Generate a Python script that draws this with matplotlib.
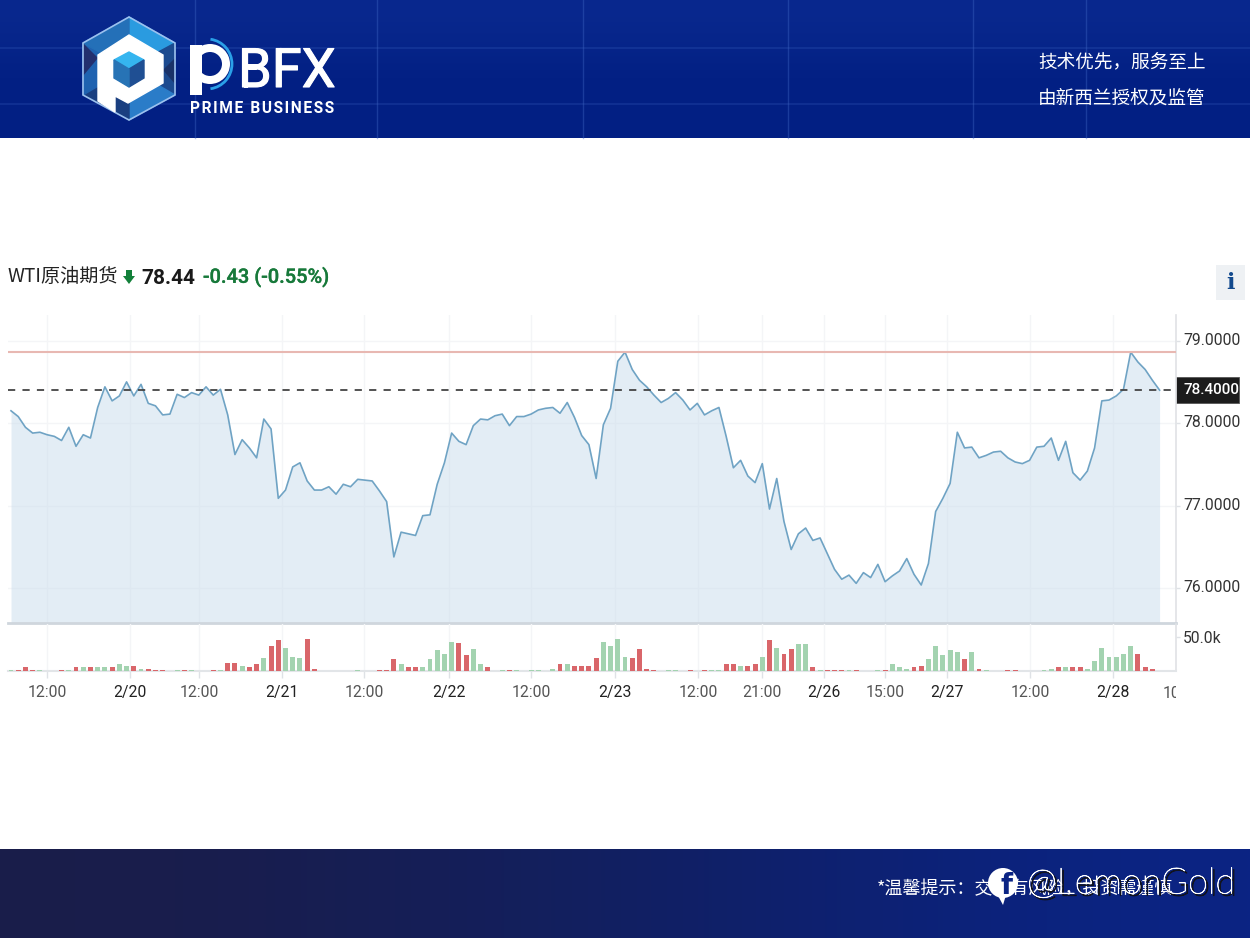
#!/usr/bin/env python3
"""WTI crude intraday chart inside the PBFX banner layout."""
import matplotlib
matplotlib.use("Agg")
import matplotlib.pyplot as plt
import matplotlib.patheffects as pe
import numpy as np
from matplotlib.patches import Circle, Polygon, Rectangle, Wedge, Arc
from matplotlib.transforms import Bbox, ScaledTranslation

W, H = 1250, 938
CJK = ["Noto Sans CJK SC", "DejaVu Sans"]

price = [
    78.15, 78.08, 77.95, 77.88, 77.89, 77.86, 77.84, 77.79, 77.95, 77.72,
    77.86, 77.82, 78.19, 78.44, 78.27, 78.33, 78.50, 78.33, 78.47, 78.24,
    78.21, 78.10, 78.11, 78.35, 78.31, 78.37, 78.34, 78.44, 78.34, 78.41,
    78.10, 77.62, 77.80, 77.70, 77.58, 78.05, 77.93, 77.09, 77.19, 77.47,
    77.52, 77.30, 77.19, 77.19, 77.23, 77.14, 77.26, 77.23, 77.32, 77.31,
    77.30, 77.18, 77.05, 76.38, 76.68, 76.66, 76.64, 76.88, 76.89, 77.26,
    77.52, 77.88, 77.78, 77.74, 77.97, 78.05, 78.04, 78.09, 78.11, 77.97,
    78.08, 78.08, 78.11, 78.16, 78.18, 78.19, 78.12, 78.25, 78.07, 77.85,
    77.74, 77.33, 77.98, 78.18, 78.75, 78.86, 78.65, 78.52, 78.44, 78.34,
    78.25, 78.30, 78.37, 78.28, 78.16, 78.24, 78.10, 78.15, 78.19, 77.84,
    77.46, 77.55, 77.36, 77.28, 77.51, 76.96, 77.33, 76.81, 76.47, 76.66,
    76.73, 76.58, 76.61, 76.42, 76.23, 76.11, 76.16, 76.06, 76.19, 76.13,
    76.29, 76.08, 76.15, 76.21, 76.36, 76.17, 76.04, 76.30, 76.93, 77.09,
    77.27, 77.89, 77.70, 77.71, 77.58, 77.61, 77.65, 77.66, 77.58, 77.53,
    77.51, 77.55, 77.71, 77.72, 77.82, 77.55, 77.78, 77.40, 77.31, 77.42,
    77.70, 78.27, 78.28, 78.33, 78.41, 78.86, 78.74, 78.65, 78.52, 78.40,
]

# volume in thousands, one bar per price point
volume = [
    1, 1, 5.5, 1.5, 1, 0, 0, 1, 1, 6,
    5.5, 5.5, 5.5, 5.5, 5.5, 10, 8, 8, 3, 3,
    1, 1, 0, 1, 1, 1, 0, 0, 1, 1,
    12, 12, 8, 5.5, 10, 19, 37, 45, 34, 21,
    19, 47.5, 3, 0, 0, 0, 0, 0, 1, 0,
    0, 1, 1, 17, 10, 5.5, 5.5, 5.5, 17, 30,
    25.5, 43, 41, 24, 32, 10, 5.5, 0, 1, 1,
    1, 0, 1, 1, 0, 3.5, 10, 10, 8, 8,
    8, 19, 43, 37, 47.5, 21, 19, 32, 3.5, 1,
    0, 1, 1, 0, 1, 0, 1, 1, 1, 10,
    10, 8, 8, 10, 21, 45, 34, 25.5, 32, 39,
    39, 5.5, 1, 1, 1, 1, 1, 1, 0, 0,
    1, 1, 10, 5.5, 3.5, 5.5, 8, 17, 37, 24,
    30, 28, 17, 28, 3.5, 1, 0, 0, 1, 1,
    0, 0, 0, 1, 3.5, 5.5, 5.5, 5.5, 5.5, 3.5,
    14, 34, 21, 21, 25.5, 37, 25.5, 5.5, 3, 0,
]
# r = down bar, g = up bar
vol_side = (
    "grrrggrrgr" "grggrggrgr" "rrggrgggrg" "rrgrrgrrgg"
    "grrggggggg" "grrrgrrggg" "ggrrggrggr" "ggggggrgrr"
    "rrggggrrrr" "ggggrgrggr" "rgrrgrgrrg" "grgrrrgrgg"
    "grgggrrggg" "ggrgrgggrr" "gggggrgrrg" "ggggggrrrg"
)

tick_idx = [4.98, 16.47, 26.02, 37.51, 48.86, 60.63, 71.98, 83.61, 95.10, 103.96, 112.54, 120.98, 129.57, 141.06, 152.55]
tick_txt = ["12:00", "2/20", "12:00", "2/21", "12:00", "2/22", "12:00", "2/23",
            "12:00", "21:00", "2/26", "15:00", "2/27", "12:00", "2/28"]
price_ticks = [76, 77, 78, 79]
session_high = 78.86
last_price = 78.40


def box(l, t, r, b):
    # pixel box, y measured from the top of the image
    return [l / W, 1 - b / H, (r - l) / W, (b - t) / H]


fig = plt.figure(figsize=(W / 100, H / 100), dpi=100, facecolor="white")

# page furniture, drawn in image pixels
bg = fig.add_axes([0, 0, 1, 1])
bg.set_xlim(0, W)
bg.set_ylim(H, 0)
bg.axis("off")

top_c = np.array([[[9, 40, 142]], [[5, 36, 136]], [[2, 30, 130]], [[3, 32, 132]]]) / 255
bg.imshow(top_c, extent=(0, W, 138, 0), aspect="auto", interpolation="bicubic", zorder=1)
for x in [195, 377, 583, 788, 973, 1086]:
    bg.plot([x, x], [0, 138], color="#3f66c4", lw=1, alpha=0.4, zorder=2)
for y in [48, 104]:
    bg.plot([0, W], [y, y], color="#3f66c4", lw=1.5, alpha=0.22, zorder=2)
foot_c = np.array([[[26, 29, 74], [21, 31, 88], [14, 32, 108], [11, 36, 132]]]) / 255
bg.imshow(foot_c, extent=(0, W, 938, 849), aspect="auto", interpolation="bicubic", zorder=1)
bg.set_xlim(0, W)
bg.set_ylim(H, 0)

# hexagon logo
cx, cy = 129, 68
rim = [(129, 17), (175, 43), (175, 95), (129, 120), (83, 95), (83, 43)]
facets = ["#2a9be0", "#1c4a8f", "#2a7cc8", "#1a3f80", "#1f62b0", "#2470b8"]
for i, c in enumerate(facets):
    bg.add_patch(Polygon([rim[i], rim[(i + 1) % 6], (cx, cy)], fc=c, ec=c, zorder=3))
bg.add_patch(Polygon([(83, 43), (98, 58), (83, 76)], fc="#232f6e", ec="none", zorder=3))
bg.add_patch(Polygon([(175, 58), (163, 70), (175, 84)], fc="#1a3268", ec="none", zorder=3))
bg.add_patch(Polygon(rim, fc="none", ec="#9cc0ee", lw=1.2, zorder=4))
bg.add_patch(Polygon([(129, 35), (163, 55), (163, 83), (128, 103), (115, 96), (115, 112), (98, 101), (98, 55)],
                     fc="white", ec="white", zorder=5))
hex_in = [(129, 52), (144, 60), (144, 78), (129, 87), (114, 78), (114, 60)]
bg.add_patch(Polygon([hex_in[5], hex_in[0], hex_in[1], (129, 69)], fc="#35b5ef", ec="#35b5ef", zorder=6))
bg.add_patch(Polygon([hex_in[1], hex_in[2], hex_in[3], (129, 69)], fc="#1f4f93", ec="#1f4f93", zorder=6))
bg.add_patch(Polygon([hex_in[3], hex_in[4], hex_in[5], (129, 69)], fc="#2773b5", ec="#2773b5", zorder=6))

# wordmark
bg.add_patch(Rectangle((190, 45), 12, 50, fc="white", ec="none", zorder=5))
bg.add_patch(Wedge((210, 64), 20, 0, 360, width=8, fc="white", ec="none", zorder=5))
bg.add_patch(Arc((207, 64), 50, 50, theta1=-82, theta2=82, color="#2aa0e8", lw=2, zorder=5))
bfx = bg.text(238, 87, "BFX", color="white", family="Roboto", fontsize=39, va="baseline", ha="left", zorder=5)
bfx.set_path_effects([pe.withStroke(linewidth=0.8, foreground="white")])
bg.text(190, 113, "\u200a".join("PRIME BUSINESS"), color="white", family=["Roboto", "DejaVu Sans"], weight="bold",
        fontsize=11.2, va="baseline", ha="left", zorder=5)

bg.text(1038, 62.5, "技术优先，服务至上", color="white", family=CJK, fontsize=13.4, va="center", ha="left", zorder=5)
bg.text(1038, 98.5, "由新西兰授权及监管", color="white", family=CJK, fontsize=13.4, va="center", ha="left", zorder=5)

# quote header
bg.text(8, 277, "WTI原油期货", color="#222222", family=CJK, fontsize=13.8, va="center", ha="left")
bg.add_patch(Polygon([(126, 270), (132, 270), (132, 276), (135, 276), (129, 284), (123, 276), (126, 276)],
                     fc="#13803a", ec="none"))
bg.text(141, 278, "78.44", color="#1a1a1a", family="Roboto", weight="bold", fontsize=15, va="center", ha="left")
chg = bg.text(203, 277, "-0.43 (-0.55%)", color="#17793a", family="Roboto", weight="medium", fontsize=14.4,
              va="center", ha="left")
chg.set_path_effects([pe.withStroke(linewidth=0.2, foreground="#17793a")])
bg.add_patch(Rectangle((1216, 265), 29, 35, fc="#eef1f4", ec="none"))
bg.text(1230, 283, "i", color="#134a8e", family="DejaVu Serif", weight="bold", fontsize=16, va="center", ha="center")

# footer and watermark
bg.text(877, 888.5, "*温馨提示：交易有风险，投资需谨慎", color="white", family=CJK, fontsize=13,
        va="center", ha="left", zorder=5)
bg.add_patch(Circle((1003, 883), 15, fc="white", ec="none", zorder=6))
bg.add_patch(Polygon([(996, 892), (1006, 895), (1003, 905)], fc="white", ec="none", zorder=6))
bg.text(1007, 886, "f", color="#0b2484", family="DejaVu Sans", weight="bold", fontsize=20, va="center",
        ha="center", zorder=7)
wm = bg.text(1027, 884, "@LemonGold", color="white", family="Lato", weight="light", fontsize=26, va="center",
             ha="left", zorder=7)
wm.set_path_effects([pe.Stroke(offset=(1.5, -1.5), linewidth=0.8, foreground="#10131f"),
                     pe.Stroke(linewidth=0.5, foreground="white"), pe.Normal()])

# price panel
x = np.arange(len(price))
x_lim = (-0.415, 161.27)

ax = fig.add_axes(box(8, 315, 1176, 623), facecolor="none")
ax.set_xlim(*x_lim)
ax.set_ylim(75.58, 79.31)
ax.fill_between(x, price, 75.58, color="#c9dced", alpha=0.5, lw=0, zorder=2)
ax.plot(x, price, color="#6fa3c4", lw=1.2, zorder=3)
ax.axhline(session_high, color="#e8b8b2", lw=1.5, zorder=3)
ax.axhline(last_price, color="#444444", lw=1.3, ls=(0, (4, 4)), zorder=4)
ax.set_xticks(tick_idx)
ax.set_yticks(price_ticks)
ax.set_yticklabels([f"{v:.4f}" for v in price_ticks])
ax.grid(color="#f4f5f7", lw=1, zorder=0)
ax.yaxis.tick_right()
ax.tick_params(axis="x", length=0, labelbottom=False)
ax.tick_params(axis="y", length=3, width=1, color="#dfe2e6", pad=2, labelsize=11.3, labelcolor="#333333")
nudge = ScaledTranslation(0, 2 / 100, fig.dpi_scale_trans)
for lab in ax.get_yticklabels():
    lab.set_family("Roboto")
    lab.set_transform(lab.get_transform() + nudge)
for s in ["top", "left"]:
    ax.spines[s].set_visible(False)
ax.spines["right"].set_color("#e0e2e5")
ax.spines["right"].set_linewidth(1.2)
ax.spines["bottom"].set_color("#cfd6dd")
ax.spines["bottom"].set_linewidth(2)

# last price tag on the axis
bg.add_patch(Rectangle((1176, 377), 63, 26, fc="#1c1c1c", ec="#555555", lw=0.6, zorder=5))
ax.text(1175 / 1168, last_price, f"{last_price:.4f}", transform=ax.get_yaxis_transform(), color="white",
        family="Roboto", weight="medium", fontsize=11, va="center", ha="left", zorder=6, clip_on=False)

# volume panel
vax = fig.add_axes(box(8, 624, 1176, 671), facecolor="none")
vax.set_xlim(*x_lim)
vax.set_ylim(0, 68.7)
bar_colors = ["#d9666a" if s == "r" else "#a3d3b0" for s in vol_side]
vax.bar(x, volume, width=0.68, color=bar_colors, zorder=3)
vax.set_xticks(tick_idx)
vax.set_xticklabels(tick_txt, family="Roboto", fontsize=11.3)
vax.set_yticks([50])
vax.set_yticklabels(["50.0k"], family="Roboto")
vax.yaxis.tick_right()
vax.grid(axis="x", color="#f4f5f7", lw=1, zorder=0)
vax.tick_params(axis="x", length=5, width=1, color="#dfe2e6", pad=5.4)
vax.tick_params(axis="y", length=3, width=1, color="#dfe2e6", pad=2, labelsize=11.3, labelcolor="#333333")
for lab, t in zip(vax.get_xticklabels(), tick_txt):
    lab.set_color("#222222" if "/" in t else "#555555")
for s in ["top", "left"]:
    vax.spines[s].set_visible(False)
vax.spines["right"].set_color("#e0e2e5")
vax.spines["right"].set_linewidth(1.2)
vax.spines["bottom"].set_color("#e2e5e8")
vax.spines["bottom"].set_linewidth(1.5)

# the last time label runs off the plot edge and is cut there
cut = vax.text(162.2, -0.32, "10:00", transform=vax.get_xaxis_transform(), family="Roboto", fontsize=11.3,
               color="#555555", ha="center", va="top", clip_on=True)
cut.set_clip_box(Bbox([[0, 0], [1176, H]]))

fig.savefig("out.png", dpi=100)
